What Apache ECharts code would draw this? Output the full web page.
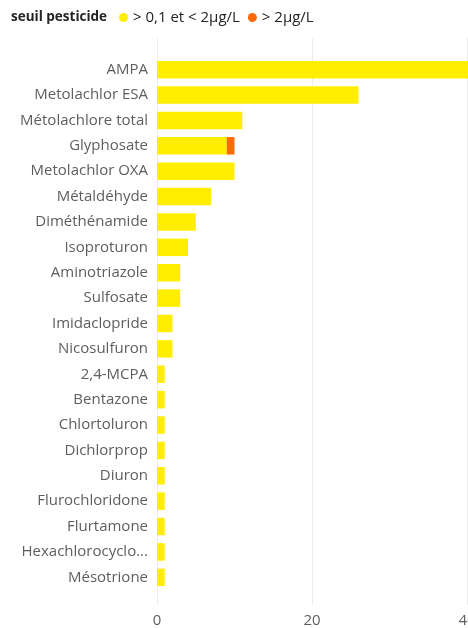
<!DOCTYPE html>
<html>
<head>
<meta charset="utf-8">
<script src="https://cdn.jsdelivr.net/npm/echarts@6/dist/echarts.min.js"></script>
<style>
html,body{margin:0;padding:0;background:#fff;}
#c{width:468px;height:628px;}
</style>
</head>
<body>
<div id="c"></div>
<script>
const categories = ["AMPA","Metolachlor ESA","Métolachlore total","Glyphosate","Metolachlor OXA","Métaldéhyde","Diméthénamide","Isoproturon","Aminotriazole","Sulfosate","Imidaclopride","Nicosulfuron","2,4-MCPA","Bentazone","Chlortoluron","Dichlorprop","Diuron","Flurochloridone","Flurtamone","Hexachlorocyclohexane","Mésotrione"];
const lowValues  = [45,26,11,9,10,7,5,4,3,3,2,2,1,1,1,1,1,1,1,1,1];
const highValues = [0,0,0,1,0,0,0,0,0,0,0,0,0,0,0,0,0,0,0,0,0];
const seriesNames = ["> 0,1 et < 2µg/L", "> 2µg/L"];
const legendTitle = "seuil pesticide";
const xTicks = [0,20,40,60];

const font = "'Open Sans', 'Noto Sans', sans-serif";
const chart = echarts.init(document.getElementById('c'));
const xMin = xTicks[0], xMax = xTicks[xTicks.length-1];
chart.setOption({
  animation:false,
  textStyle:{fontFamily:font},
  title:{text:legendTitle,left:11,top:10,padding:0,textStyle:{fontSize:13.5,fontWeight:'bold',color:'#252423',fontFamily:font}},
  legend:{left:119,top:10,padding:0,itemWidth:9,itemHeight:9,itemGap:8,icon:'circle',
    textStyle:{fontSize:15,color:'#252423',fontFamily:font},
    data:seriesNames},
  grid:[
    {left:157,width:465,top:57,bottom:38,containLabel:false,outerBoundsMode:'none'},
    {left:157,width:465,top:38,bottom:23,containLabel:false,outerBoundsMode:'none'}
  ],
  xAxis:[
    {type:'value',gridIndex:0,min:xMin,max:xMax,interval:20,show:false},
    {type:'value',gridIndex:1,min:xMin,max:xMax,interval:20,
      axisLine:{show:false},axisTick:{show:false},
      splitLine:{lineStyle:{color:'#ECECEC'}},
      axisLabel:{margin:8,fontSize:15,color:'#605E5C',fontFamily:font}}
  ],
  yAxis:[
    {type:'category',gridIndex:0,inverse:true,data:categories,z:3,
      axisLine:{show:false},axisTick:{show:false},
      axisLabel:{margin:9,fontSize:15,color:'#605E5C',fontFamily:font,width:132,overflow:'truncate',ellipsis:'...'}},
    {type:'category',gridIndex:1,data:[''],show:false}
  ],
  series:[
    {name:seriesNames[0],type:'bar',stack:'s',data:lowValues,barCategoryGap:'31%',z:3,itemStyle:{color:'#FFEE00'}},
    {name:seriesNames[1],type:'bar',stack:'s',data:highValues,z:3,itemStyle:{color:'#FD6A0A'}}
  ]
});
</script>
</body>
</html>
